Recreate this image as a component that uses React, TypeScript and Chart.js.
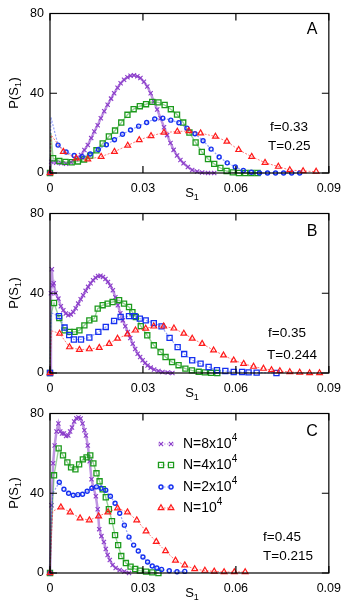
import React, { useEffect, useRef } from 'react';
import { Chart, registerables } from 'chart.js';
import { drawPoint } from 'chart.js/helpers';

Chart.register(...registerables);

// ---------- data ----------
const X_TICKS = [0, 0.03, 0.06, 0.09];
const X_TICK_LABELS = ['0', '0.03', '0.06', '0.09'];
const Y_TICKS = [0, 40, 80];
const Y_TICK_LABELS = ['0', '40', '80'];

const SERIES_NAMES = ['N=8x10', 'N=4x10', 'N=2x10', 'N=10'];
const SERIES_EXPONENTS = ['4', '4', '4', '4'];
const PANEL_LETTERS = ['A', 'B', 'C'];
const PANEL_F = ['f=0.33', 'f=0.35', 'f=0.45'];
const PANEL_T = ['T=0.25', 'T=0.244', 'T=0.215'];

// Panel A (f=0.33, T=0.25): [S1, P(S1)]
const A_N8 = [[0,0],[0.0004,5.7],[0.002,5.2],[0.0036,4.9],[0.0052,4.6],[0.0068,5.4],[0.0084,7],[0.01,9],[0.0111,11.5],[0.0122,14],[0.0133,17.5],[0.0143,20.8],[0.0154,24],[0.0164,27.5],[0.0175,31],[0.0186,34.2],[0.0197,37.3],[0.0207,40],[0.0218,42.8],[0.0228,45],[0.0239,46.8],[0.025,48],[0.026,48.8],[0.0271,49],[0.0282,48.5],[0.0292,47.6],[0.0303,45.8],[0.0314,43.4],[0.0325,40],[0.0335,35.9],[0.0346,31.8],[0.0357,27.5],[0.0368,23],[0.0378,19],[0.0389,15],[0.0399,11.6],[0.041,8.8],[0.0421,6.5],[0.0431,4.9],[0.0445,3],[0.0459,1.5],[0.0475,0.7],[0.0491,0.2],[0.051,0],[0.053,0]];
const A_N4 = [[0,0],[0.0003,20],[0.001,7.4],[0.003,6],[0.005,5.6],[0.007,5.4],[0.009,5.8],[0.011,6.8],[0.013,8.7],[0.015,11.4],[0.017,14.8],[0.019,18.3],[0.021,21.3],[0.023,25.3],[0.025,29.2],[0.027,32],[0.029,33.5],[0.031,34.5],[0.033,35.7],[0.035,35.4],[0.037,34.1],[0.039,32],[0.041,29.3],[0.043,25.3],[0.045,20.3],[0.047,15.3],[0.049,10.6],[0.051,7],[0.053,4.6],[0.055,2.5],[0.057,1],[0.059,0.3],[0.061,0],[0.063,0],[0.065,0],[0.067,0]];
const A_N2 = [[0,0],[0.0003,28],[0.0026,14],[0.0052,10.5],[0.0078,8.8],[0.0104,8.2],[0.013,9.5],[0.0156,11.8],[0.0182,14.2],[0.0208,16.7],[0.0234,19.4],[0.026,21.6],[0.0286,23.5],[0.0312,25.3],[0.0338,27.1],[0.0364,27.5],[0.039,26.5],[0.0416,25.2],[0.0442,22.5],[0.0468,19.7],[0.0494,16.2],[0.052,12],[0.0546,8],[0.0572,5.1],[0.0598,3],[0.0624,1.3],[0.065,0.4],[0.0676,0],[0.0702,0],[0.0728,0],[0.0754,0],[0.078,0],[0.0806,0]];
const A_N1 = [[0,0],[0.0004,19],[0.0043,10.7],[0.0085,7.4],[0.0122,6.9],[0.0165,8.2],[0.0208,10.7],[0.0251,13.8],[0.0288,16.6],[0.0326,18.6],[0.0368,20.3],[0.0411,20.8],[0.0448,21.1],[0.0486,20],[0.0534,18.3],[0.0571,15.8],[0.0609,11.6],[0.0651,8.2],[0.0694,5.2],[0.0737,3.2],[0.0774,1.5],[0.0817,1],[0.0859,0.7]];

// Panel B (f=0.35, T=0.244)
const B_N8 = [[0,0],[0.0003,40],[0.0006,52],[0.0009,44],[0.0012,45],[0.0018,40],[0.0027,37.3],[0.0035,33.5],[0.0043,31.5],[0.0051,29.8],[0.0059,29],[0.0067,29.4],[0.0075,30.6],[0.0083,32.5],[0.0091,34.8],[0.0099,37],[0.0107,39],[0.0115,41.2],[0.0123,43.2],[0.0131,45],[0.0139,46.5],[0.0147,47.8],[0.0155,48.7],[0.0163,48.8],[0.0171,48.2],[0.0179,47.2],[0.0187,45.7],[0.0195,43.8],[0.0203,41.5],[0.0211,38],[0.0219,34],[0.0227,30],[0.0235,26.4],[0.0243,23.5],[0.0251,20.6],[0.0259,17.5],[0.0267,14.7],[0.0275,12],[0.0283,9.7],[0.0291,8],[0.0299,6.4],[0.0307,5],[0.0315,3.8],[0.0325,2.7],[0.0336,1.8],[0.035,1],[0.0363,0.5],[0.038,0.2],[0.0395,0]];
const B_N4 = [[0,0],[0.0004,30],[0.0013,35.1],[0.003,27.5],[0.0047,21.4],[0.0063,20.6],[0.0079,20.6],[0.0095,21.4],[0.0111,23.9],[0.0127,26.4],[0.0143,27.3],[0.0154,32.3],[0.017,34],[0.0186,34.8],[0.0202,35.6],[0.0223,36.5],[0.0239,34.8],[0.0255,33.1],[0.0266,30.5],[0.0277,28.1],[0.0293,23.5],[0.0314,18.9],[0.0335,13.9],[0.0357,10.5],[0.0373,8],[0.0394,5.5],[0.0415,3.9],[0.0437,2.2],[0.0458,1.3],[0.048,0.6],[0.05,0.3],[0.052,0.1],[0.054,0]];
const B_N2 = [[0,0],[0.0003,28],[0.0006,30],[0.0029,28.5],[0.0047,22.8],[0.0062,19],[0.0077,16.8],[0.01,16.8],[0.0127,17.8],[0.0156,20.6],[0.018,23.1],[0.0207,26.1],[0.0228,28.1],[0.0255,28.5],[0.0273,28.5],[0.029,27.3],[0.0309,26.4],[0.0335,25],[0.036,23.4],[0.0386,17.6],[0.0412,13],[0.0433,9.5],[0.0459,6.4],[0.0486,4.7],[0.0512,3],[0.0539,1.4],[0.0566,1],[0.0593,0.5],[0.062,0.5],[0.0641,0.3],[0.0667,0.2],[0.0731,0]];
const B_N1 = [[0,0],[0.0004,21],[0.0009,21],[0.0031,19.8],[0.0063,13],[0.0095,11.7],[0.0127,12],[0.0159,12.7],[0.0191,14.7],[0.0218,17.3],[0.025,19.4],[0.0276,21.4],[0.0309,22.3],[0.0335,23.4],[0.0367,23.4],[0.04,22.4],[0.0432,19.8],[0.0459,17.3],[0.0491,14.7],[0.0528,11.4],[0.056,8.9],[0.0593,6.4],[0.0625,4.7],[0.0657,3.2],[0.0689,2.2],[0.0715,1.5],[0.0742,1],[0.0774,0.5],[0.0806,0.2],[0.0838,0],[0.087,0]];

// Panel C (f=0.45, T=0.215)
const C_N8 = [[0,0],[0.0005,34],[0.001,55],[0.0015,64],[0.0021,71],[0.0027,75],[0.0033,71],[0.0039,70],[0.0045,70],[0.0052,68.7],[0.0059,69],[0.0065,71],[0.0071,73],[0.0078,76],[0.0085,77.6],[0.0092,78],[0.0099,77.5],[0.0105,75],[0.0111,71.6],[0.0116,69],[0.0122,64],[0.0128,56],[0.0134,47],[0.014,43],[0.0148,38.5],[0.0154,32],[0.0159,22],[0.0166,18.5],[0.0174,15.5],[0.018,12],[0.0186,9],[0.0193,6.5],[0.0202,4],[0.0212,2.5],[0.0225,1.5],[0.024,0.7],[0.0255,0]];
const C_N4 = [[0,0],[0.0005,25],[0.0013,49],[0.0028,62.5],[0.0042,59],[0.0056,55.5],[0.0068,53],[0.0082,52],[0.0094,54.5],[0.0106,57],[0.0118,58],[0.013,59],[0.014,55],[0.015,50],[0.016,46],[0.017,42],[0.018,38],[0.019,32],[0.02,26],[0.021,19],[0.022,14],[0.023,8.5],[0.0245,5],[0.026,3.2],[0.0275,2],[0.029,1.2],[0.031,0.7],[0.033,0.3],[0.035,0]];
const C_N2 = [[0,0],[0.0005,30],[0.0009,40],[0.003,45.5],[0.0045,42],[0.006,40],[0.0075,39],[0.009,39.3],[0.0105,39.5],[0.012,41],[0.0135,42.5],[0.015,43.2],[0.0165,42.5],[0.018,41.5],[0.0195,38.5],[0.021,35],[0.0225,30],[0.024,24],[0.0255,18],[0.027,14],[0.0285,11],[0.03,8],[0.0315,5.5],[0.033,3.5],[0.0345,2.5],[0.036,1.8],[0.0385,1.1],[0.041,0.6],[0.0435,0.8]];
const C_N1 = [[0,0],[0.0005,20],[0.0009,31],[0.0035,33],[0.0065,30.5],[0.0097,27.5],[0.0127,26.5],[0.0157,28.5],[0.0187,30.5],[0.0218,32.5],[0.025,30.5],[0.028,26.5],[0.031,21],[0.0343,15.7],[0.0373,11],[0.0405,6.3],[0.0435,3.9],[0.0467,2],[0.05,1.2],[0.053,0.8],[0.0562,0.5],[0.0595,0.5],[0.063,0.5]];

// ---------- styles ----------
const FONT = '"Liberation Sans", Arial, Helvetica, sans-serif';
const COLORS = ['#8b3dca', '#1c9a1c', '#1530f0', '#ff1a1a'];
const LINE_COLORS = ['rgba(139,61,202,0.55)', 'rgba(28,154,28,0.45)', 'rgba(21,48,240,0.45)', 'rgba(255,26,26,0.6)'];
const LINE_WIDTHS = [2.5, 1.4, 1.2, 1];
const LINE_DASH = [[], [], [2, 1.5], [2, 1.5]];
const POINT_RADIUS = { crossRot: 3, rect: 3.6, circle: 2, triangle: 3.3 } as Record<string, number>;
const POINT_BW = { crossRot: 1.1, rect: 1.3, circle: 1.4, triangle: 1.2 } as Record<string, number>;
const MARKER_MIN_X = 0.00095; // near-axis spike samples are drawn as line only (except dense crosses)

const CANVAS_W = 349;
const CANVAS_H = 209;
const PANEL_TOPS = [0, 200, 400];
const PANEL_SERIES = [
  [A_N8, A_N4, A_N2, A_N1],
  [B_N8, B_N4, B_N2, B_N1],
  [C_N8, C_N4, C_N2, C_N1],
];
const PANEL_STYLES = [
  ['crossRot', 'rect', 'circle', 'triangle'],
  ['crossRot', 'rect', 'rect', 'triangle'],
  ['crossRot', 'rect', 'circle', 'triangle'],
];
// text placement (canvas pixels within each panel)
const TEXT_POS = [
  { fx: 270, fy: 127, tx: 268, ty: 146, ly: 30 },
  { fx: 268, fy: 133, tx: 267, ty: 155, ly: 32 },
  { fx: 263, fy: 137, tx: 263, ty: 156, ly: 32 },
];
const LEGEND_ROWS_Y = [44, 65, 87, 108];

function drawSubscripted(ctx: CanvasRenderingContext2D, parts: { t: string; sub?: boolean; sup?: boolean }[], x: number, y: number, size: number, align: 'left' | 'center') {
  const small = Math.round(size * 0.68);
  let total = 0;
  const widths = parts.map((p) => {
    ctx.font = `${p.sub || p.sup ? small : size}px ${FONT}`;
    const w = ctx.measureText(p.t).width;
    total += w;
    return w;
  });
  let cx = align === 'center' ? x - total / 2 : x;
  ctx.textAlign = 'left';
  ctx.textBaseline = 'middle';
  parts.forEach((p, i) => {
    ctx.font = `${p.sub || p.sup ? small : size}px ${FONT}`;
    const dy = p.sub ? size * 0.38 : p.sup ? -size * 0.42 : 0;
    ctx.fillText(p.t, cx, y + dy);
    cx += widths[i] + (p.sup || p.sub ? 0.5 : 0);
  });
}

function makeDecorPlugin(panel: number) {
  return {
    id: 'decor' + panel,
    afterDraw(chart: any) {
      const { ctx, chartArea } = chart;
      const { left, right, top, bottom } = chartArea;
      const xs = chart.scales.x;
      const ys = chart.scales.y;
      ctx.save();
      ctx.strokeStyle = '#000';
      ctx.lineWidth = 1.2;
      ctx.strokeRect(left, top, right - left, bottom - top);
      const tl = 7;
      ctx.beginPath();
      X_TICKS.forEach((v) => {
        const px = xs.getPixelForValue(v);
        ctx.moveTo(px, bottom);
        ctx.lineTo(px, bottom - tl);
        ctx.moveTo(px, top);
        ctx.lineTo(px, top + tl);
      });
      Y_TICKS.forEach((v) => {
        const py = ys.getPixelForValue(v);
        ctx.moveTo(left, py);
        ctx.lineTo(left + tl, py);
        ctx.moveTo(right, py);
        ctx.lineTo(right - tl, py);
      });
      ctx.stroke();

      ctx.fillStyle = '#000';
      const tp = TEXT_POS[panel];
      ctx.font = `16px ${FONT}`;
      ctx.textAlign = 'center';
      ctx.textBaseline = 'middle';
      ctx.fillText(PANEL_LETTERS[panel], 312, tp.ly);
      ctx.font = `13.5px ${FONT}`;
      ctx.textAlign = 'left';
      ctx.fillText(PANEL_F[panel], tp.fx, tp.fy);
      ctx.fillText(PANEL_T[panel], tp.tx, tp.ty);

      drawSubscripted(ctx, [{ t: 'S' }, { t: '1', sub: true }], left + 142, bottom + 20, 13, 'center');
      ctx.save();
      ctx.translate(14, (top + bottom) / 2);
      ctx.rotate(-Math.PI / 2);
      drawSubscripted(ctx, [{ t: 'P(S' }, { t: '1', sub: true }, { t: ')' }], 0, 0, 13, 'center');
      ctx.restore();

      if (panel === 2) {
        LEGEND_ROWS_Y.forEach((ly, i) => {
          const style = PANEL_STYLES[panel][i];
          ctx.strokeStyle = LINE_COLORS[i];
          ctx.lineWidth = 1;
          ctx.setLineDash([1.5, 1.5]);
          ctx.beginPath();
          ctx.moveTo(158, ly);
          ctx.lineTo(174, ly);
          ctx.stroke();
          ctx.setLineDash([]);
          ctx.strokeStyle = COLORS[i];
          ctx.fillStyle = 'rgba(0,0,0,0)';
          const opts = { pointStyle: style, radius: POINT_RADIUS[style], rotation: 0, borderWidth: POINT_BW[style] };
          ctx.lineWidth = POINT_BW[style];
          drawPoint(ctx, opts as any, 161, ly);
          drawPoint(ctx, opts as any, 171, ly);
          ctx.fillStyle = '#000';
          drawSubscripted(ctx, [{ t: SERIES_NAMES[i] }, { t: SERIES_EXPONENTS[i], sup: true }], 183, ly, 14, 'left');
        });
      }
      ctx.restore();
    },
  };
}

function Panel({ index }: { index: number }) {
  const ref = useRef<HTMLCanvasElement | null>(null);
  useEffect(() => {
    const canvas = ref.current;
    if (!canvas) return;
    const styles = PANEL_STYLES[index];
    const datasets = PANEL_SERIES[index].map((arr, i) => {
      const r = POINT_RADIUS[styles[i]];
      return {
        label: SERIES_NAMES[i] + SERIES_EXPONENTS[i],
        data: arr.map(([x, y]) => ({ x, y })),
        showLine: true,
        borderColor: LINE_COLORS[i],
        borderWidth: LINE_WIDTHS[i],
        borderDash: LINE_DASH[i],
        pointStyle: styles[i],
        pointRadius: (c: any) => {
          const x = c.raw ? c.raw.x : 0;
          return i > 0 && x > 0 && x < MARKER_MIN_X ? 0 : r;
        },
        pointBorderWidth: POINT_BW[styles[i]],
        pointBorderColor: COLORS[i],
        pointBackgroundColor: 'rgba(0,0,0,0)',
        tension: 0,
        clip: 6,
        order: 4 - i,
      };
    });
    const tickFont = { family: FONT, size: 12.5 };
    const chart = new Chart(canvas, {
      type: 'scatter',
      data: { datasets },
      options: {
        animation: false,
        responsive: false,
        maintainAspectRatio: false,
        devicePixelRatio: 1,
        layout: { padding: { top: 13.5, right: 18, left: 0, bottom: 0 } },
        plugins: { legend: { display: false }, tooltip: { enabled: false } },
        events: [],
        scales: {
          x: {
            type: 'linear',
            min: 0,
            max: 0.09,
            grid: { display: false, drawTicks: false },
            border: { display: false },
            afterBuildTicks: (s: any) => {
              s.ticks = X_TICKS.map((v) => ({ value: v }));
            },
            afterFit: (s: any) => {
              s.height = 36;
            },
            ticks: {
              autoSkip: false,
              maxRotation: 0,
              padding: 8,
              color: '#000',
              font: tickFont,
              callback: (v: any) => X_TICK_LABELS[X_TICKS.indexOf(v)],
            },
          },
          y: {
            type: 'linear',
            min: 0,
            max: 80,
            grid: { display: false, drawTicks: false },
            border: { display: false },
            afterBuildTicks: (s: any) => {
              s.ticks = Y_TICKS.map((v) => ({ value: v }));
            },
            afterFit: (s: any) => {
              s.width = 50;
            },
            ticks: {
              padding: 6,
              color: '#000',
              font: tickFont,
              callback: (v: any) => Y_TICK_LABELS[Y_TICKS.indexOf(v)],
            },
          },
        },
      } as any,
      plugins: [makeDecorPlugin(index)],
    });
    return () => chart.destroy();
  }, [index]);
  return (
    <canvas
      ref={ref}
      width={CANVAS_W}
      height={CANVAS_H}
      style={{ position: 'absolute', left: 0, top: PANEL_TOPS[index], width: CANVAS_W, height: CANVAS_H }}
    />
  );
}

export default function App() {
  return (
    <div style={{ position: 'absolute', left: 0, top: 0, width: 349, height: 609, background: '#fff', overflow: 'hidden' }}>
      <Panel index={0} />
      <Panel index={1} />
      <Panel index={2} />
    </div>
  );
}
